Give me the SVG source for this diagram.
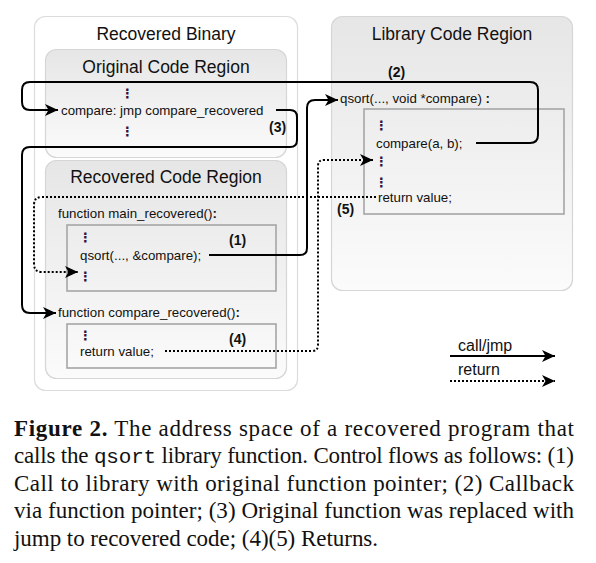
<svg xmlns="http://www.w3.org/2000/svg" width="596" height="563" viewBox="0 0 596 563">
<style>
.t{font-family:"Liberation Sans",Arial,sans-serif;fill:#111;}
.title{font-size:17.5px;text-anchor:middle;}
.code{font-size:13.3px;}
.dots{font-family:"DejaVu Sans",sans-serif;font-size:13px;font-weight:bold;fill:#301040;}
.lbl{font-size:14px;font-weight:bold;}
.leg{font-size:16px;}
.region{stroke:#d6d6d6;stroke-width:1.2;fill:url(#g);}
.outer{stroke:#dcdcdc;stroke-width:1.2;fill:#fff;}
.inner{stroke:#a6a6a6;stroke-width:1.6;fill:none;}
.call{fill:none;stroke:#000;stroke-width:2;marker-end:url(#ah);}
.ret{fill:none;stroke:#000;stroke-width:2;stroke-dasharray:2 2;marker-end:url(#ah);}
.cap{font-family:"Liberation Serif","Times New Roman",serif;font-size:23px;fill:#111;}
</style>
<defs>
<linearGradient id="g" x1="0" y1="0" x2="0" y2="1">
<stop offset="0" stop-color="#e6e6e6"/>
<stop offset="1" stop-color="#fbfbfb"/>
</linearGradient>
<marker id="ah" markerWidth="14" markerHeight="12" refX="13" refY="6" orient="auto" markerUnits="userSpaceOnUse">
<path d="M0,0 L13,6 L0,12 L3.5,6 Z" fill="#000"/>
</marker>
</defs>

<g id="recovered-binary">
<rect class="outer" x="34.5" y="16.5" width="263" height="374" rx="11"/>
<text class="t title" x="166" y="40">Recovered Binary</text>
</g>

<g id="original-code-region">
<rect class="region" x="45.5" y="49.5" width="241" height="108" rx="11"/>
<text class="t title" x="166" y="73">Original Code Region</text>
<text class="dots" x="121" y="98">⋮</text>
<text class="t code" x="61" y="115">compare: jmp compare_recovered</text>
<text class="dots" x="121" y="136">⋮</text>
</g>

<g id="recovered-code-region">
<rect class="region" x="45.5" y="160.5" width="241" height="218" rx="11"/>
<text class="t title" x="166" y="183">Recovered Code Region</text>
<text class="t code" x="58" y="218">function main_recovered()<tspan font-weight="bold">:</tspan></text>
<rect class="inner" x="67" y="225" width="209" height="66"/>
<text class="dots" x="79" y="242">⋮</text>
<text class="t code" x="80" y="260">qsort(..., &amp;compare);</text>
<text class="dots" x="79" y="281">⋮</text>
<text class="t code" x="58" y="317">function compare_recovered()<tspan font-weight="bold">:</tspan></text>
<rect class="inner" x="67" y="324" width="209" height="44"/>
<text class="dots" x="79" y="340">⋮</text>
<text class="t code" x="80" y="356">return value;</text>
</g>

<g id="library-code-region">
<rect class="region" x="331.5" y="16.5" width="241" height="274" rx="11"/>
<text class="t title" x="452" y="40">Library Code Region</text>
<text class="t code" x="340" y="103">qsort(..., void *compare) <tspan font-weight="bold">:</tspan></text>
<rect class="inner" x="364" y="109" width="200" height="105"/>
<text class="dots" x="375" y="130">⋮</text>
<text class="t code" x="376" y="148">compare(a, b);</text>
<text class="dots" x="375" y="166">⋮</text>
<text class="dots" x="375" y="187">⋮</text>
<text class="t code" x="378" y="202">return value;</text>
</g>

<g id="connectors">
<path class="call" d="M476,143 L530,143 Q538,143 538,135 L538,90 Q538,82 530,82 L30,82 Q22,82 22,90 L22,102 Q22,110 30,110 L58,110"/>
<path class="call" d="M276,110 L290,110 Q297,110 297,117 L297,140 Q297,147 290,147 L30,147 Q22,147 22,155 L22,305 Q22,313 30,313 L56,313"/>
<path class="call" d="M209,255 L300,255 Q307,255 307,248 L307,108 Q307,100 315,100 L338,100"/>
<path class="ret" d="M165,351 L312,351 Q318,351 318,345 L318,166 Q318,160 324,160 L373,160"/>
<path class="ret" d="M376,197 L42,197 Q34,197 34,205 L34,264 Q34,272 42,272 L78,272"/>
<text class="t lbl" x="229" y="245">(1)</text>
<text class="t lbl" x="388" y="77">(2)</text>
<text class="t lbl" x="269" y="132">(3)</text>
<text class="t lbl" x="229" y="344">(4)</text>
<text class="t lbl" x="337" y="214">(5)</text>
</g>

<g id="legend">
<text class="t leg" x="458" y="351">call/jmp</text>
<path class="call" d="M450,356 L555,356"/>
<text class="t leg" x="458" y="375">return</text>
<path class="ret" d="M450,381 L555,381"/>
</g>

<g id="caption">
<text class="cap" x="14" y="436" textLength="560" lengthAdjust="spacing"><tspan font-weight="bold">Figure 2.</tspan> The address space of a recovered program that</text>
<text class="cap" x="14" y="463" textLength="560" lengthAdjust="spacing">calls the <tspan font-family="Liberation Mono, Courier New, monospace" font-size="21">qsort</tspan> library function. Control flows as follows: (1)</text>
<text class="cap" x="14" y="491" textLength="560" lengthAdjust="spacing">Call to library with original function pointer; (2) Callback</text>
<text class="cap" x="14" y="518" textLength="560" lengthAdjust="spacing">via function pointer; (3) Original function was replaced with</text>
<text class="cap" x="14" y="546" textLength="364" lengthAdjust="spacing">jump to recovered code; (4)(5) Returns.</text>
</g>
</svg>
